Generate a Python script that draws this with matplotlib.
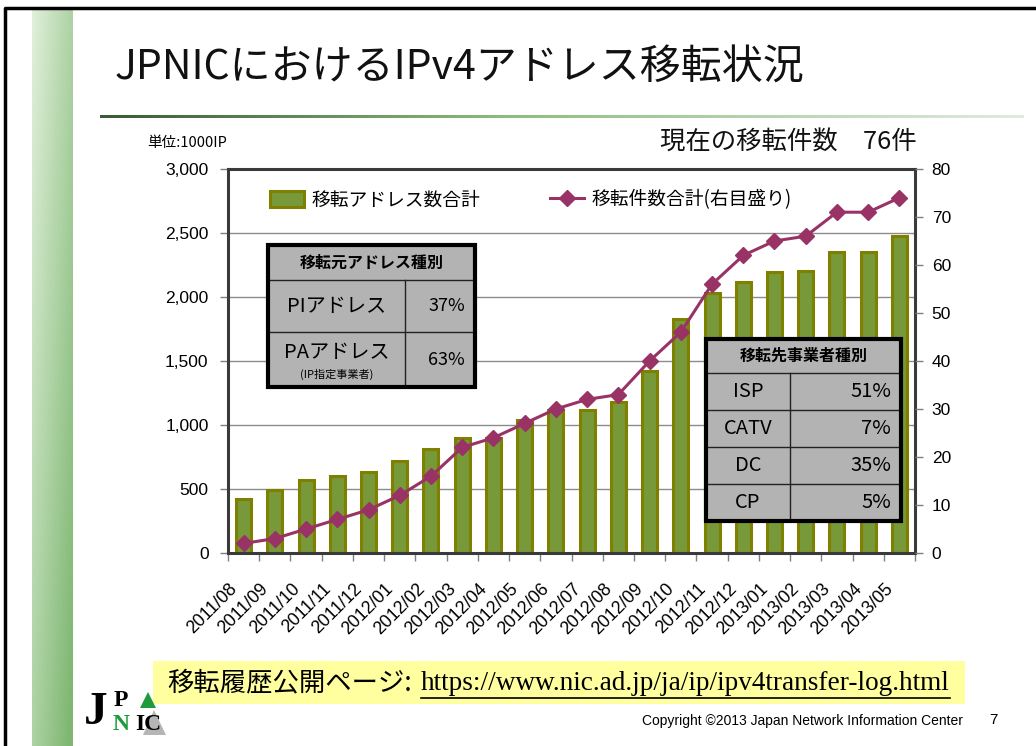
"""
plot.py
=======
JPNIC IPv4 address transfer slide: bars (total transferred addresses, left
axis) + line (cumulative number of transfers, right axis), with two share
tables drawn on top of the plot area.
"""

import numpy as np
import matplotlib
matplotlib.use("Agg")
import matplotlib.pyplot as plt  # noqa: E402
from matplotlib.lines import Line2D  # noqa: E402
from matplotlib.patches import Polygon, Rectangle  # noqa: E402
from matplotlib.transforms import Affine2D, ScaledTranslation  # noqa: E402

JP = ["Noto Sans CJK JP", "DejaVu Sans"]
plt.rcParams["font.family"] = JP

# --- data -------------------------------------------------------------
months = [
    "2011/08", "2011/09", "2011/10", "2011/11", "2011/12", "2012/01",
    "2012/02", "2012/03", "2012/04", "2012/05", "2012/06", "2012/07",
    "2012/08", "2012/09", "2012/10", "2012/11", "2012/12", "2013/01",
    "2013/02", "2013/03", "2013/04", "2013/05",
]
# cumulative transferred addresses (unit: 1000 IP)
addresses = [420, 490, 570, 600, 635, 720, 810, 900, 900, 1040, 1120, 1115,
             1180, 1420, 1830, 2035, 2120, 2195, 2200, 2350, 2350, 2475]
# cumulative number of transfers (right axis)
transfers = [2, 3, 5, 7, 9, 12, 16, 22, 24, 27, 30, 32,
             33, 40, 46, 56, 62, 65, 66, 71, 71, 74]
total_transfers = 76

src_types = ["PIアドレス", "PAアドレス"]
src_share = [37, 63]
dst_types = ["ISP", "CATV", "DC", "CP"]
dst_share = [51, 7, 35, 5]

BAR_FACE = "#77993a"
BAR_EDGE = "#808000"
LINE_COL = "#993366"
TABLE_BG = "#b3b3b3"

# --- figure + pixel transform (origin top-left) ------------------------
W, H = 1036, 746
fig = plt.figure(figsize=(W / 100, H / 100), dpi=100)
fig.patch.set_facecolor("white")
PX = Affine2D().scale(1 / W, -1 / H).translate(0, 1) + fig.transFigure

# slide frame
fig.add_artist(Line2D([5, 5, W], [H, 8, 8], transform=PX, color="black", lw=2.5))

# green band on the left
band = fig.add_axes([32 / W, 0, 41 / W, (H - 10) / H])
tx = np.linspace(0, 1, 60)[None, :]
ty = np.linspace(0, 1, 200)[:, None]
mix = np.clip(0.15 + 0.45 * tx + 0.45 * ty, 0, 1)[..., None]
light = np.array([0.95, 0.98, 0.93])
dark = np.array([0.50, 0.72, 0.45])
band.imshow(light + (dark - light) * mix, aspect="auto")
band.axis("off")

# title + gradient underline
fig.text(115 / W, 1 - 68 / H, "JPNICにおけるIPv4アドレス移転状況",
         fontsize=29.5, va="center", ha="left", color="#111111")
uline = fig.add_axes([100 / W, 1 - 118 / H, (1023 - 100) / W, 3 / H])
g = np.linspace(0, 1, 300)
c0 = np.array([0.22, 0.36, 0.20])
c1 = np.array([0.55, 0.75, 0.50])
c2 = np.array([0.88, 0.92, 0.88])
grad = np.where(g[:, None] < 0.45,
                c0 + (c1 - c0) * (g[:, None] / 0.45),
                c1 + (c2 - c1) * ((g[:, None] - 0.45) / 0.55))
uline.imshow(grad[None, :, :], aspect="auto")
uline.axis("off")

# --- chart -------------------------------------------------------------
ax = fig.add_axes([228 / W, 1 - 553 / H, (915 - 228) / W, (553 - 169) / H])
x = np.arange(len(months))
bars = ax.bar(x, addresses, width=0.48, color=BAR_FACE, edgecolor=BAR_EDGE,
              linewidth=2.2, zorder=2, label="移転アドレス数合計")
ax.set_xlim(-0.5, len(months) - 0.5)
ax.set_ylim(0, 3000)
ax.set_yticks(np.arange(0, 3001, 500))
ax.set_yticklabels([f"{v:,}" for v in range(0, 3001, 500)],
                   family=["Liberation Sans", "DejaVu Sans"])
ax.yaxis.grid(True, color="#8c8c8c", lw=1)
ax.set_axisbelow(True)
for sp in ax.spines.values():
    sp.set_color("#3a3a3a")
    sp.set_linewidth(2.2)
ax.tick_params(axis="y", direction="out", length=6, width=1, color="#808080",
               labelsize=12.5, pad=8)

ax.set_xticks(x)
ax.set_xticklabels(months, rotation=45, ha="right", va="center",
                   rotation_mode="anchor",
                   family=["Liberation Sans", "DejaVu Sans"])
ax.set_xticks(np.arange(-0.5, len(months), 1.0), minor=True)
ax.tick_params(axis="x", which="major", length=0, labelsize=12.8, pad=24)
ax.tick_params(axis="x", which="minor", direction="out", length=6, width=1,
               color="#808080")
shift = ScaledTranslation(-9 / 100, 0, fig.dpi_scale_trans)
for lab in ax.get_xticklabels():
    lab.set_transform(lab.get_transform() + shift)

ax2 = ax.twinx()
line, = ax2.plot(x, transfers, color=LINE_COL, lw=2.2, marker="D",
                 markersize=8, zorder=3, label="移転件数合計(右目盛り)")
ax2.set_ylim(0, 80)
ax2.set_yticks(np.arange(0, 81, 10))
ax2.set_yticklabels([str(v) for v in range(0, 81, 10)],
                    family=["Liberation Sans", "DejaVu Sans"])
ax2.tick_params(axis="y", direction="out", length=6, width=1, color="#808080",
                labelsize=12.5, pad=6)
for sp in ax2.spines.values():
    sp.set_visible(False)

leg = ax2.legend(handles=[bars, line], ncol=2, frameon=False,
                 loc="center left", bbox_to_anchor=(270 / W, 1 - 200 / H),
                 bbox_transform=fig.transFigure, fontsize=13.5,
                 borderpad=0, borderaxespad=0, handlelength=1.8,
                 handleheight=0.9, handletextpad=0.4, columnspacing=3.75)

# unit + current count
fig.text(147 / W, 1 - 143 / H, "単位:1000IP", fontsize=10.5, va="center",
         ha="left")
fig.text(917 / W, 1 - 143 / H, f"現在の移転件数　{total_transfers}件",
         fontsize=18.3, va="center", ha="right", color="#111111")


# --- tables ------------------------------------------------------------
def draw_table(x0, x1, xdiv, row_edges, title, names, shares, name_size,
               share_size, sub=None):
    y0, y1 = row_edges[0], row_edges[-1]
    fig.add_artist(Rectangle((x0, y0), x1 - x0, y1 - y0, transform=PX,
                             facecolor=TABLE_BG, edgecolor="none", zorder=5))
    for yy in row_edges[1:-1]:
        fig.add_artist(Line2D([x0, x1], [yy, yy], transform=PX,
                              color="#222222", lw=1, zorder=6))
    fig.add_artist(Line2D([xdiv, xdiv], [row_edges[1], y1], transform=PX,
                          color="#222222", lw=1, zorder=6))
    fig.add_artist(Rectangle((x0, y0), x1 - x0, y1 - y0, transform=PX,
                             facecolor="none", edgecolor="black", lw=3,
                             zorder=7))
    fig.text((x0 + x1) / 2 / W, 1 - (row_edges[0] + row_edges[1]) / 2 / H,
             title, fontsize=11.5, fontweight="bold", ha="center",
             va="center", zorder=8)
    for i, (name, share) in enumerate(zip(names, shares)):
        ym = (row_edges[i + 1] + row_edges[i + 2]) / 2
        if sub is not None and sub[i]:
            fig.text((x0 + xdiv) / 2 / W, 1 - (ym - 7) / H, name,
                     fontsize=name_size, ha="center", va="center", zorder=8)
            fig.text((x0 + xdiv) / 2 / W, 1 - (ym + 15) / H, sub[i],
                     fontsize=8, ha="center", va="center", zorder=8)
        else:
            fig.text((x0 + xdiv) / 2 / W, 1 - ym / H, name,
                     fontsize=name_size, ha="center", va="center", zorder=8)
        fig.text((x1 - 10) / W, 1 - ym / H, f"{share}%", fontsize=share_size,
                 ha="right", va="center", zorder=8)


draw_table(268, 475, 405, [245, 280, 332, 387], "移転元アドレス種別",
           src_types, src_share, 14.5, 13, sub=[None, "(IP指定事業者)"])
draw_table(706, 901, 790, [339, 373, 410, 447, 484, 521], "移転先事業者種別",
           dst_types, dst_share, 14.5, 14.5)

# --- footer -------------------------------------------------------------
fig.add_artist(Rectangle((153, 661), 965 - 153, 704 - 661, transform=PX,
                         facecolor="#ffffa0", edgecolor="none", zorder=1))
fig.text(167 / W, 1 - 683 / H, "移転履歴公開ページ:", fontsize=19,
         ha="left", va="center", zorder=2)
url = fig.text(421 / W, 1 - 683 / H,
               "https://www.nic.ad.jp/ja/ip/ipv4transfer-log.html",
               fontsize=19.6, ha="left", va="center", zorder=2,
               family=["Liberation Serif", "DejaVu Serif"])
fig.canvas.draw()
bb = url.get_window_extent()
fig.add_artist(Line2D([bb.x0 / W, bb.x1 / W], [1 - 698 / H, 1 - 698 / H],
                      transform=fig.transFigure, color="black", lw=1.2,
                      zorder=2))

fig.text(963 / W, 1 - 721 / H,
         "Copyright \u00a92013 Japan Network Information Center",
         fontsize=10, ha="right", va="center",
         family=["Liberation Sans", "DejaVu Sans"])
fig.text(993 / W, 1 - 720 / H, "7", fontsize=11, ha="center", va="center",
         family=["Liberation Sans", "DejaVu Sans"])

# JPNIC logo (approximation)
SERIF = ["Liberation Serif", "DejaVu Serif"]
fig.add_artist(Polygon([(143, 735), (166, 735), (154, 710)], closed=True,
                       transform=PX, facecolor="#b5b5b5", edgecolor="none"))
fig.add_artist(Polygon([(140, 708), (156, 708), (148, 692)], closed=True,
                       transform=PX, facecolor="#1f9a3c", edgecolor="none"))
fig.text(96 / W, 1 - 713 / H, "J", fontsize=34, fontweight="bold",
         family=SERIF, ha="center", va="center")
fig.text(121 / W, 1 - 700 / H, "P", fontsize=17, fontweight="bold",
         family=SERIF, ha="center", va="center")
fig.text(121 / W, 1 - 725 / H, "N", fontsize=17, fontweight="bold",
         family=SERIF, ha="center", va="center", color="#1f9a3c")
fig.text(148 / W, 1 - 725 / H, "IC", fontsize=17, fontweight="bold",
         family=SERIF, ha="center", va="center")

fig.savefig("out.png", dpi=100)
